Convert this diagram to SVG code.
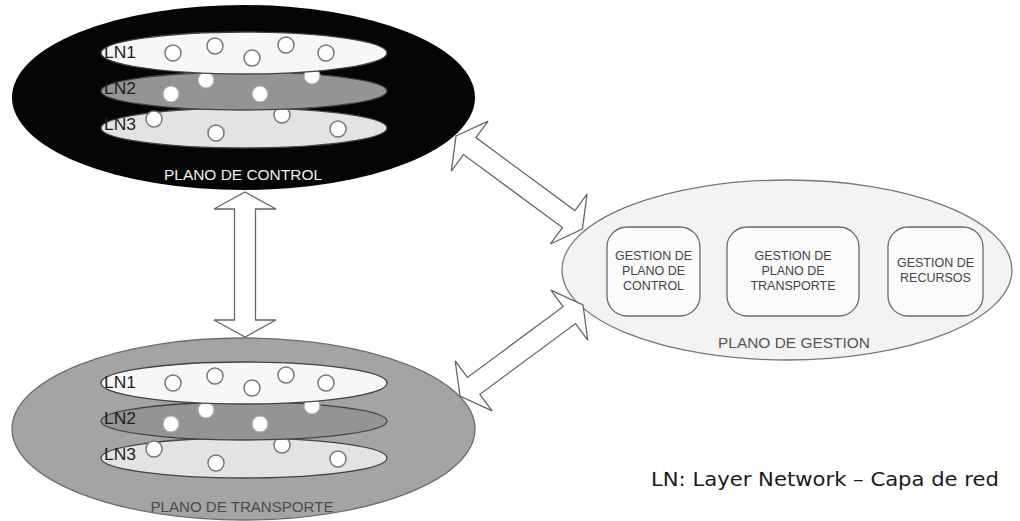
<svg xmlns="http://www.w3.org/2000/svg" width="1020" height="521" viewBox="0 0 1020 521">
  <style>
    .lbl { font-family: "Liberation Sans", Arial, sans-serif; }
    .ln { font-family: "Liberation Sans", Arial, sans-serif; font-size: 16px; fill: #1e1e1e; }
    .layer { stroke: #444; stroke-width: 1.3; }
    .node { fill: #ffffff; stroke: #777; stroke-width: 1.5; }
    .node2 { fill: #ffffff; stroke: #aaa; stroke-width: 1.2; }
    .box { fill: #fbfbfb; stroke: #6a6a6a; stroke-width: 1.3; }
    .boxtxt { font-family: "Liberation Sans", Arial, sans-serif; font-size: 12.5px; fill: #444; text-anchor: middle; }
    .arrow { fill: #ffffff; stroke: #666; stroke-width: 1.3; stroke-linejoin: miter; }
  </style>
  <defs>
    <!-- one stack of three layer networks, drawn bottom layer first -->
    <g id="layers">
      <ellipse class="layer" cx="244" cy="128" rx="143" ry="20" fill="#e3e3e3"/>
      <circle class="node" cx="154" cy="119" r="8"/>
      <circle class="node" cx="216" cy="133" r="8"/>
      <circle class="node" cx="282" cy="115" r="8"/>
      <circle class="node" cx="338" cy="129" r="8"/>
      <text class="ln" x="104" y="130" textLength="32" lengthAdjust="spacingAndGlyphs">LN3</text>

      <ellipse class="layer" cx="244" cy="91" rx="143" ry="19" fill="#949494"/>
      <circle class="node2" cx="171" cy="94" r="8"/>
      <circle class="node2" cx="206" cy="80" r="8"/>
      <circle class="node2" cx="260" cy="94" r="8"/>
      <circle class="node2" cx="312" cy="76" r="8"/>
      <text class="ln" x="104" y="94" textLength="32" lengthAdjust="spacingAndGlyphs">LN2</text>

      <ellipse class="layer" cx="244" cy="53" rx="143" ry="21" fill="#f7f7f7"/>
      <circle class="node" cx="173" cy="53" r="8"/>
      <circle class="node" cx="215" cy="46" r="8"/>
      <circle class="node" cx="252" cy="58" r="8"/>
      <circle class="node" cx="286" cy="45" r="8"/>
      <circle class="node" cx="326" cy="53" r="8"/>
      <text class="ln" x="104" y="58" textLength="32" lengthAdjust="spacingAndGlyphs">LN1</text>
    </g>
  </defs>

  <rect width="1020" height="521" fill="#ffffff"/>

  <!-- control plane -->
  <g id="plano-control">
    <ellipse cx="243.5" cy="97.5" rx="231.5" ry="92.5" fill="#050505"/>
    <use href="#layers"/>
    <text class="lbl" x="243" y="180" font-size="14" fill="#f0f0f0" text-anchor="middle" textLength="158" lengthAdjust="spacingAndGlyphs">PLANO DE CONTROL</text>
  </g>

  <!-- transport plane -->
  <g id="plano-transporte">
    <ellipse cx="243.5" cy="429" rx="231.5" ry="91" fill="#a4a4a4" stroke="#6d6d6d" stroke-width="1.3"/>
    <use href="#layers" transform="translate(0,330)"/>
    <text class="lbl" x="242" y="512" font-size="14" fill="#4a4a4a" text-anchor="middle" textLength="183" lengthAdjust="spacingAndGlyphs">PLANO DE TRANSPORTE</text>
  </g>

  <!-- management plane -->
  <g id="plano-gestion">
    <ellipse cx="787" cy="270" rx="225" ry="90" fill="#f3f3f3" stroke="#777" stroke-width="1.3"/>
    <text class="lbl" x="794" y="348" font-size="14" fill="#555" text-anchor="middle" textLength="152" lengthAdjust="spacingAndGlyphs">PLANO DE GESTION</text>
  </g>

  <g id="gestion-control">
    <rect class="box" x="607" y="227" width="93" height="89" rx="20"/>
    <text class="boxtxt" x="653.5" y="260">GESTION DE</text>
    <text class="boxtxt" x="653.5" y="275">PLANO DE</text>
    <text class="boxtxt" x="653.5" y="290">CONTROL</text>
  </g>

  <g id="gestion-transporte">
    <rect class="box" x="727" y="227" width="132" height="89" rx="20"/>
    <text class="boxtxt" x="793" y="260">GESTION DE</text>
    <text class="boxtxt" x="793" y="275">PLANO DE</text>
    <text class="boxtxt" x="793" y="290">TRANSPORTE</text>
  </g>

  <g id="gestion-recursos">
    <rect class="box" x="888" y="227" width="95" height="89" rx="20"/>
    <text class="boxtxt" x="935.5" y="267">GESTION DE</text>
    <text class="boxtxt" x="935.5" y="282">RECURSOS</text>
  </g>

  <!-- double-headed block arrows between planes -->
  <g id="connectors">
    <polygon class="arrow" transform="translate(245,192) rotate(90)"
      points="0,0 17,-31 17,-10.5 128,-10.5 128,-31 145,0 128,31 128,10.5 17,10.5 17,31"/>
    <polygon class="arrow" transform="translate(456,136) rotate(36.4)"
      points="0,0 17,-31 17,-10.5 140,-10.5 140,-31 157,0 140,31 140,10.5 17,10.5 17,31"/>
    <polygon class="arrow" transform="translate(460,396) rotate(-36.5)"
      points="0,0 17,-31 17,-10.5 136,-10.5 136,-31 153,0 136,31 136,10.5 17,10.5 17,31"/>
  </g>

  <text id="leyenda" x="651" y="486" font-family="'DejaVu Sans', Verdana, sans-serif" font-size="20" fill="#1a1a1a" textLength="348" lengthAdjust="spacingAndGlyphs">LN: Layer Network – Capa de red</text>
</svg>
